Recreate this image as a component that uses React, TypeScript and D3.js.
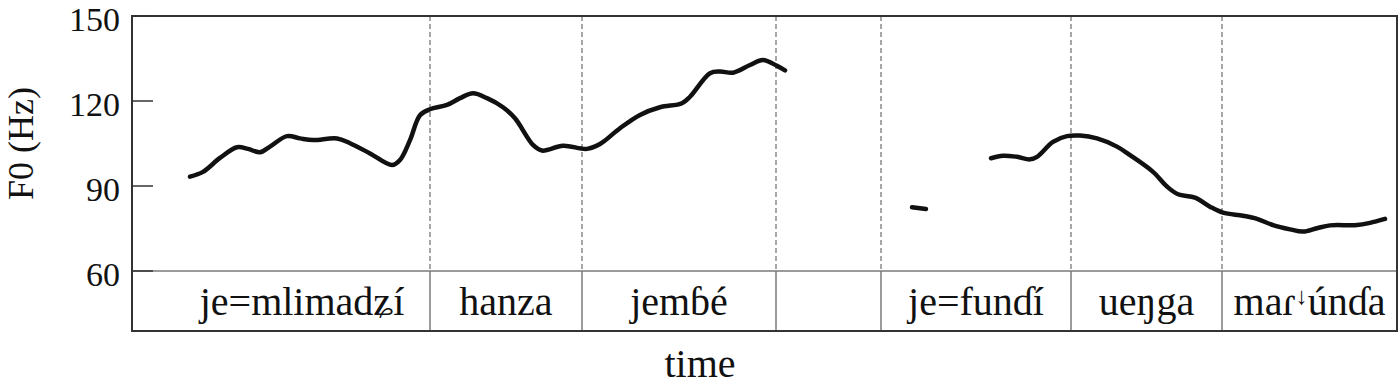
import React from "react";
import { scaleLinear, line, curveCatmullRom } from "d3";

// F0 contour (time in s, F0 in Hz), three voiced stretches
const seg1 = [
  [0.116, 93.3], [0.142, 95.0], [0.176, 99.9], [0.21, 103.7], [0.232, 103.1],
  [0.256, 101.9], [0.276, 103.9], [0.31, 107.6], [0.336, 106.8], [0.362, 106.2],
  [0.41, 106.8], [0.436, 105.1], [0.476, 101.5], [0.52, 97.4], [0.536, 99.2],
  [0.556, 106.2], [0.576, 115.0], [0.596, 117.1], [0.63, 118.6], [0.656, 121.0],
  [0.682, 122.7], [0.71, 121.0], [0.742, 117.8], [0.766, 113.9], [0.802, 104.5],
  [0.82, 102.5], [0.862, 104.2], [0.91, 103.1], [0.936, 104.8], [0.976, 110.4],
  [1.016, 115.1], [1.056, 117.8], [1.1, 119.2], [1.116, 121.5], [1.156, 129.8],
  [1.176, 130.4], [1.202, 130.0], [1.236, 132.7], [1.262, 134.5], [1.29, 132.4],
  [1.306, 130.8],
];
const seg2 = [[1.56, 82.5], [1.588, 81.9]];
const seg3 = [
  [1.718, 99.8], [1.742, 100.7], [1.77, 100.3], [1.796, 99.4], [1.81, 100.3],
  [1.842, 105.6], [1.87, 107.6], [1.896, 107.8], [1.93, 106.8], [1.97, 103.9],
  [1.996, 100.9], [2.042, 95.0], [2.07, 89.8], [2.092, 87.1], [2.126, 85.9],
  [2.156, 82.7], [2.182, 80.6], [2.222, 79.5], [2.25, 78.4], [2.282, 76.2],
  [2.316, 74.7], [2.342, 73.9], [2.37, 75.1], [2.396, 76.1], [2.45, 76.2],
  [2.476, 77.0], [2.506, 78.4],
];

// word tier: boundaries and labels (the "↓" of the last word is drawn raised)
const boundaries = [0.596, 0.9, 1.288, 1.498, 1.878, 2.18];
const words = ["je=mlimadʑí", "hanza", "jemɓé", "", "je=funɗí", "ueŋga", "maɾ↓únɗa"];
const wordStarts = [0.084, 0.596, 0.9, 1.288, 1.498, 1.878, 2.18];
const wordEnds = [0.596, 0.9, 1.288, 1.498, 1.878, 2.18, 2.53];

const yTicks = [60, 90, 120, 150];

const W = 1400;
const H = 389;
const left = 132;
const right = 1397;
const top = 16;
const plotBottom = 271;
const tierBottom = 331;
const times = "Liberation Serif, Times New Roman, DejaVu Serif, serif";

function Word({ text }: { text: string }) {
  const parts = text.split("↓");
  if (parts.length < 2) return <>{text}</>;
  return (
    <>
      {parts[0]}
      <tspan fontSize={24} dy={-11}>↓</tspan>
      <tspan dy={11}>{parts[1]}</tspan>
    </>
  );
}

export default function App() {
  const x = scaleLinear().domain([0, 2.53]).range([left, right]);
  const y = scaleLinear().domain([60, 150]).range([plotBottom, top]);

  const f0Line = line<number[]>()
    .x((d) => x(d[0]))
    .y((d) => y(d[1]))
    .curve(curveCatmullRom.alpha(0.5));

  return (
    <svg
      width={W}
      height={H}
      fontFamily={times}
      style={{ position: "absolute", left: 0, top: 0, background: "#fff" }}
    >
      {/* dashed word boundaries in the pitch panel */}
      {boundaries.map((b) => (
        <line key={"d" + b} x1={x(b)} x2={x(b)} y1={top} y2={plotBottom}
          stroke="#8a8a8a" strokeWidth={1.5} strokeDasharray="5,3" />
      ))}
      {/* solid boundaries in the tier */}
      {boundaries.map((b) => (
        <line key={"s" + b} x1={x(b)} x2={x(b)} y1={plotBottom} y2={tierBottom}
          stroke="#7a7a7a" strokeWidth={1.5} />
      ))}
      <line x1={left} x2={right} y1={plotBottom} y2={plotBottom} stroke="#7a7a7a" strokeWidth={1.5} />

      {/* frame */}
      <rect x={left} y={top} width={right - left} height={tierBottom - top}
        fill="none" stroke="#333" strokeWidth={2} />

      {/* y ticks */}
      {yTicks.map((t) => (
        <g key={t}>
          <line x1={left} x2={left + 21} y1={y(t)} y2={y(t)} stroke="#333" strokeWidth={1.5} />
          <text x={120} y={y(t) + 15} textAnchor="end" fontSize={34} fill="#111">
            {t}
          </text>
        </g>
      ))}

      {/* F0 curve */}
      {[seg1, seg2, seg3].map((s, i) => (
        <path key={i} d={f0Line(s) || ""} fill="none" stroke="#111" strokeWidth={4.5}
          strokeLinecap="round" strokeLinejoin="round" />
      ))}

      {/* word labels */}
      {words.map((w, i) => (
        <text key={i} x={(x(wordStarts[i]) + x(wordEnds[i])) / 2} y={315}
          textAnchor="middle" fontSize={40} fill="#111">
          <Word text={w} />
        </text>
      ))}

      {/* axis titles */}
      <text x={700} y={377} textAnchor="middle" fontSize={40} fill="#111">
        time
      </text>
      <text transform={`translate(33,${(top + plotBottom) / 2}) rotate(-90)`} textAnchor="middle"
        fontSize={36} fill="#111">
        F0 (Hz)
      </text>
    </svg>
  );
}
